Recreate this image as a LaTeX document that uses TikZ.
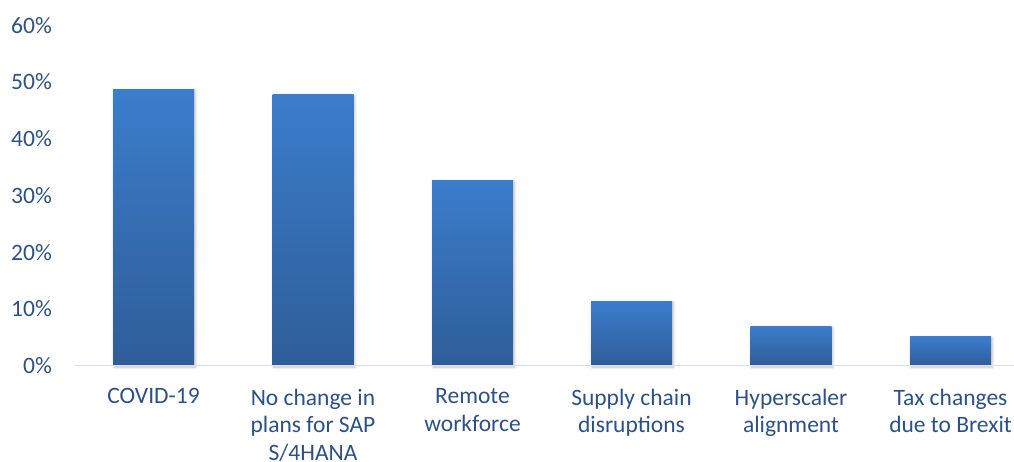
\documentclass[tikz,border=0pt]{standalone}
\usepackage{fontspec}
\setmainfont{Carlito}
\usetikzlibrary{shadows.blur}
\definecolor{txt}{HTML}{2C5088}
\definecolor{bartop}{HTML}{3B7DCC}
\definecolor{barbot}{HTML}{2F5D98}
\definecolor{axisc}{HTML}{D6E0EF}
\tikzset{
  ylab/.style={anchor=east, text=txt, font=\fontsize{23.5}{28}\selectfont, inner sep=0pt},
  catlab/.style={anchor=north, text=txt, font=\fontsize{23.5}{27.8}\selectfont, align=center, inner sep=0pt},
  bar/.style={top color=bartop, bottom color=barbot, draw=none,
     blur shadow={shadow xshift=1.2pt, shadow yshift=-1.5pt, shadow blur steps=6, shadow blur radius=3pt, shadow opacity=25}},
}
\begin{document}
\begin{tikzpicture}[x=1pt,y=-1pt]
\useasboundingbox (0,0) rectangle (1014,462);
% y-axis labels
\foreach \v/\n in {0/0,1/10,2/20,3/30,4/40,5/50,6/60}{
  \node[ylab] (y\n) at (52,{365.5-56.7*\v}) {\n\%};
}
% bars
\foreach \c/\h/\k in {153.5/48.7/b1, 313/47.8/b2, 472.5/32.6/b3, 631.5/11.3/b4, 791/6.9/b5, 950.5/5.1/b6}{
  \path[bar] ({\c-40.5},365.5) rectangle ({\c+40.5},{365.5-5.67*\h});
  \coordinate (\k) at (\c,365.5);
}
% axis
\coordinate (a0) at (74,365.5);
\coordinate (a1) at (1014,365.5);
\draw[axisc, line width=1.2pt] (a0) -- (a1);
% category labels
\node[catlab] (c1) at (153.5,388.5) {COVID-19};
\node[catlab] (c2) at (313,388.5) {No change in\\plans for SAP\\S/4HANA};
\node[catlab] (c3) at (472.5,388.5) {Remote\\workforce};
\node[catlab] (c4) at (631.5,388.5) {Supply chain\\disruptions};
\node[catlab] (c5) at (791,388.5) {Hyperscaler\\alignment};
\node[catlab] (c6) at (950.5,388.5) {Tax changes\\due to Brexit};
\end{tikzpicture}
\end{document}
